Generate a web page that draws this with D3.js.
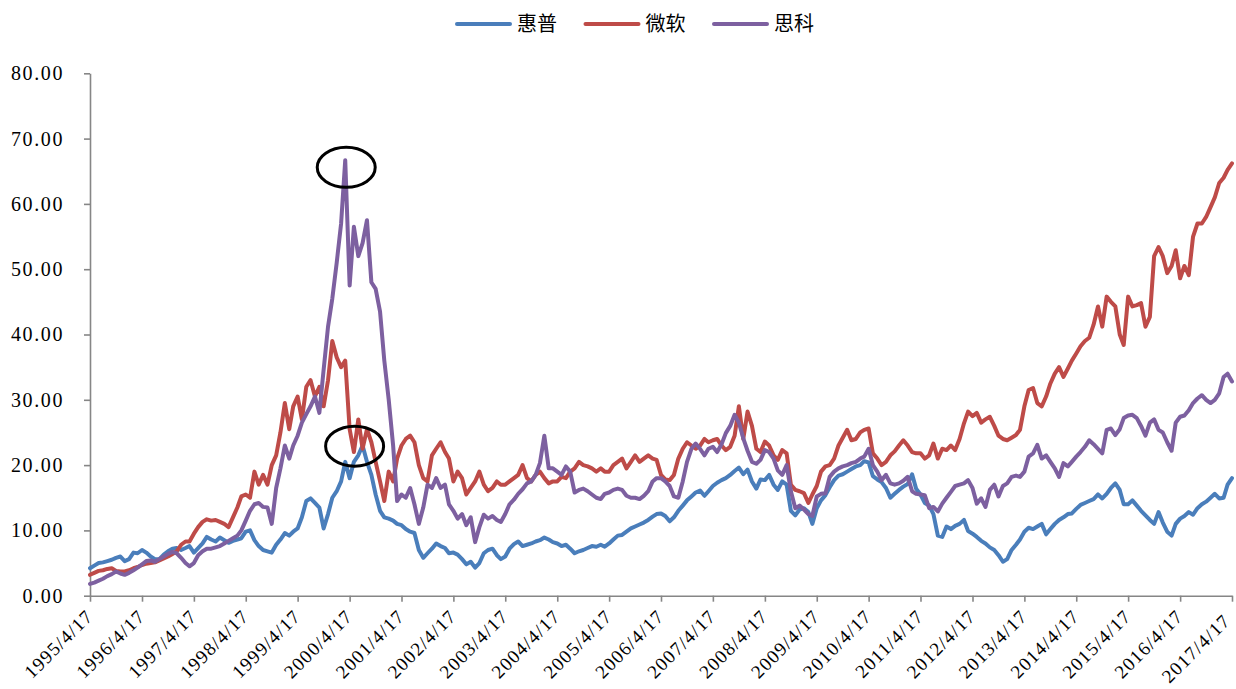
<!DOCTYPE html>
<html>
<head>
<meta charset="utf-8">
<script src="https://cdn.jsdelivr.net/npm/d3@7"></script>
<style>
  html, body { margin: 0; padding: 0; background: #fff; }
  svg { display: block; }
</style>
</head>
<body>
<div id="chart"></div>
<script>
// ---- data (monthly closes, starting 1995/4/17) ----
const startDate = "1995-04-17";
const endDate = "2017-04-17";
const seriesNames = ["惠普", "微软", "思科"];
const seriesColors = ["#4A7EBB", "#BE4B48", "#7D60A0"];

const hpValues = [
  4.2, 4.6, 5.0, 5.1, 5.3, 5.5, 5.8, 6.0, 5.3, 5.6, 6.6, 6.5,
  7.0, 6.6, 6.0, 5.6, 5.6, 6.3, 6.8, 7.2, 7.3, 7.0, 7.3, 7.6,
  6.6, 7.3, 8.0, 9.0, 8.6, 8.3, 8.9, 8.5, 8.1, 8.4, 8.6, 8.8,
  9.8, 10.0, 8.5, 7.6, 7.0, 6.8, 6.6, 7.8, 8.6, 9.6, 9.2, 9.8,
  10.3, 12.0, 14.5, 14.9, 14.2, 13.5, 10.3, 12.5, 15.0, 16.0, 17.5, 20.5,
  18.0, 20.5, 21.5, 23.0, 20.5, 18.5, 15.5, 13.0, 12.0, 11.8, 11.5, 11.0,
  10.8, 10.2, 9.8, 9.6, 7.0, 5.8, 6.5, 7.2, 8.0, 7.6, 7.3, 6.5,
  6.6, 6.3, 5.6, 4.8, 5.2, 4.3, 5.0, 6.5, 7.0, 7.2, 6.2, 5.6,
  6.0, 7.2, 7.9, 8.3, 7.6, 7.8, 8.0, 8.3, 8.5, 8.9, 8.6, 8.2,
  8.0, 7.6, 7.8, 7.2, 6.5, 6.8, 7.0, 7.3, 7.6, 7.5, 7.8, 7.5,
  8.0, 8.6, 9.2, 9.3, 9.8, 10.3, 10.6, 10.9, 11.2, 11.6, 12.1, 12.5,
  12.6, 12.2, 11.4, 12.0, 13.0, 13.8, 14.6, 15.2, 15.8, 16.1, 15.3, 16.0,
  16.8, 17.3, 17.7, 18.0, 18.5, 19.1, 19.6, 18.6, 19.3, 17.5, 16.4, 17.8,
  17.7, 18.5, 17.0, 16.2, 17.5, 17.0, 13.0, 12.3, 13.2, 13.4, 12.8, 11.0,
  13.4, 14.6, 15.4, 16.6, 17.7, 18.4, 18.6, 19.0, 19.4, 19.8, 20.0, 20.6,
  20.4, 18.3, 17.8, 17.4, 16.5, 15.0, 15.6, 16.2, 16.7, 17.1, 18.6, 16.4,
  15.5, 14.2, 13.8, 12.5, 9.2, 9.0, 10.6, 10.2, 10.7, 11.0, 11.6, 9.9,
  9.5, 9.0, 8.4, 8.0, 7.4, 7.0, 6.2, 5.2, 5.6, 7.0, 7.8, 8.6,
  9.8, 10.4, 10.2, 10.6, 11.0, 9.4, 10.2, 11.0, 11.6, 12.0, 12.5, 12.6,
  13.3, 13.9, 14.2, 14.5, 14.8, 15.5, 14.9, 15.6, 16.5, 17.2, 16.2, 14.0,
  14.0, 14.6, 13.8, 13.0, 12.3, 11.6, 11.0, 12.8, 11.2, 9.8, 9.2, 11.0,
  11.8, 12.2, 12.8, 12.4, 13.4, 14.0, 14.4, 15.0, 15.6, 14.9, 15.0, 17.0, 18.0
];

const msftValues = [
  3.2, 3.5, 3.8, 3.9, 4.1, 4.2, 3.8, 3.7, 3.7, 3.9, 4.2, 4.4,
  4.7, 4.9, 5.0, 5.1, 5.4, 5.7, 6.0, 6.4, 6.8, 7.8, 8.3, 8.3,
  9.5, 10.5, 11.3, 11.7, 11.5, 11.6, 11.3, 11.0, 10.5, 12.0, 13.5, 15.2,
  15.5, 15.0, 19.0, 17.0, 18.5, 17.0, 20.0, 21.5, 25.0, 29.5, 25.5, 29.0,
  30.5, 27.0, 32.0, 33.0, 30.5, 32.0, 29.0, 33.0, 39.0, 36.5, 35.0, 36.0,
  25.5, 22.0, 27.0, 22.5, 25.5, 23.5, 20.5, 17.5, 14.5, 19.0, 17.5, 21.0,
  23.0, 24.0, 24.5, 23.5, 20.0, 18.0, 17.5, 21.5, 22.5, 23.5, 22.0, 21.0,
  17.5, 19.0, 18.0, 15.5, 16.5, 17.5, 19.0, 17.0, 16.0, 16.5, 17.5, 17.0,
  17.0, 17.5, 18.0, 18.5, 20.0, 18.0, 17.5, 18.5, 19.0, 18.0, 17.2, 17.5,
  17.5, 18.2, 18.0, 19.0, 19.5, 20.5, 20.0, 19.8, 19.5, 19.0, 19.5, 19.0,
  19.0, 20.0, 20.5, 21.0, 19.5, 20.5, 21.5, 20.5, 21.0, 21.5, 21.0, 20.8,
  18.5, 17.8, 17.7, 18.5, 21.0, 22.5, 23.5, 23.0, 22.5, 23.0, 24.0, 23.5,
  23.8, 24.0, 23.0, 22.3, 22.8, 24.5, 29.0, 24.0, 28.2, 26.0, 22.5, 22.0,
  23.6, 23.0, 21.5, 20.8, 22.3, 21.8, 17.0, 16.2, 16.0, 15.7, 14.2, 15.5,
  16.8, 19.0, 19.8, 20.0, 21.0, 23.0, 24.2, 25.4, 23.8, 24.0, 25.0, 25.4,
  25.6, 21.8, 21.0, 20.0, 20.5, 21.5, 22.1, 23.0, 23.8, 23.0, 22.0, 21.8,
  21.8, 21.0, 21.5, 23.3, 21.0, 22.5, 22.3, 23.0, 22.3, 24.0, 26.4, 28.2,
  27.5, 28.0, 26.5, 27.0, 27.4, 26.0, 24.5, 24.0, 23.8, 24.2, 24.6, 25.4,
  29.0, 31.5, 31.8, 29.5, 29.0, 30.5, 32.5, 34.0, 35.0, 33.5, 34.8, 36.0,
  37.1, 38.2, 39.0, 39.5, 41.5, 44.3, 41.2, 45.8, 45.0, 44.3, 40.0, 38.4,
  45.8, 44.3, 44.5, 44.8, 41.2, 42.7, 52.0, 53.4, 52.0, 49.4, 50.5, 52.9,
  48.6, 50.5, 49.1, 55.0, 57.0, 57.0, 58.0, 59.5, 61.0, 63.2, 64.0, 65.2, 66.2
];

const ciscoValues = [
  1.8, 2.0, 2.3, 2.6, 3.0, 3.3, 3.7, 3.4, 3.2, 3.5, 3.9, 4.3,
  4.8, 5.3, 5.4, 5.2, 5.6, 6.0, 6.4, 6.7, 6.5, 5.8, 5.0, 4.5,
  5.0, 6.2, 6.8, 7.2, 7.2, 7.4, 7.6, 8.0, 8.4, 8.8, 9.2, 10.0,
  11.5, 13.0, 14.0, 14.2, 13.6, 13.5, 11.0, 16.5, 19.5, 23.0, 21.0, 23.0,
  24.5, 26.5, 27.8, 29.0, 30.5, 28.0, 34.6, 41.2, 45.5, 51.0, 57.0, 66.7,
  47.5, 56.5, 52.0, 54.0, 57.5, 48.0, 47.0, 43.5, 36.0, 30.0, 23.0, 14.5,
  15.5, 15.0, 16.5, 14.0, 11.0, 13.5, 17.0, 16.5, 18.0, 16.5, 17.0, 14.0,
  13.0, 11.8, 12.5, 10.8, 12.0, 8.2, 10.5, 12.4, 11.8, 12.2, 11.6, 11.3,
  12.5, 14.0, 14.7, 15.6, 16.3, 17.2, 17.5, 18.5, 20.3, 24.5, 19.5, 19.5,
  19.0, 18.5, 19.8, 19.0, 15.8, 16.2, 16.4, 16.0, 15.5, 15.0, 14.8, 15.6,
  15.8, 16.2, 16.4, 16.2, 15.3, 15.0, 15.0, 14.8, 15.3, 16.0, 17.5, 18.0,
  18.0, 17.5, 16.8, 15.2, 15.0, 17.5, 20.5, 22.5, 23.3, 22.5, 21.5, 22.5,
  22.8, 22.0, 23.2, 24.9, 26.0, 27.7, 26.5, 24.1, 22.2, 20.5, 20.2, 20.8,
  22.3, 22.0, 21.0, 19.2, 18.5, 20.0, 16.0, 13.4, 13.8, 13.2, 12.5, 12.2,
  15.2, 15.6, 15.7, 18.2, 19.0, 19.5, 19.8, 20.0, 20.3, 20.5, 21.0, 21.3,
  22.5, 20.0, 19.0, 17.7, 18.5, 17.2, 17.0, 17.2, 17.6, 18.2, 16.0, 15.6,
  15.5, 15.4, 13.4, 13.6, 12.9, 14.1, 15.0, 15.9, 16.8, 17.0, 17.2, 17.7,
  16.5, 14.1, 14.9, 13.6, 16.2, 17.0, 15.2, 16.8, 17.2, 18.2, 18.4, 18.2,
  19.0, 21.3, 21.8, 23.1, 21.0, 21.5, 20.5, 19.5, 18.2, 20.3, 19.8, 20.5,
  21.3, 22.0, 22.8, 23.8, 23.2, 22.5, 21.8, 25.4, 25.6, 24.6, 25.5, 27.2,
  27.6, 27.7, 27.2, 26.0, 24.5, 26.5, 27.0, 25.4, 25.0, 23.5, 22.2, 26.5,
  27.4, 27.6, 28.4, 29.5, 30.2, 30.7, 30.0, 29.5, 30.0, 31.0, 33.5, 34.0, 32.8
];

const yTicks = [0, 10, 20, 30, 40, 50, 60, 70, 80];
const xTickYears = [1995,1996,1997,1998,1999,2000,2001,2002,2003,2004,2005,2006,
                    2007,2008,2009,2010,2011,2012,2013,2014,2015,2016,2017];
// annotation circles: [date, value]
const markDates = ["2000-03-24", "2000-05-22"];
const markValues = [65.6, 22.9];

// ---- drawing ----
const W = 1236, H = 689;
const svg = d3.select("#chart").append("svg")
  .attr("width", W).attr("height", H)
  .style("background", "#fff");

const parse = d3.timeParse("%Y-%m-%d");
const t0 = parse(startDate), t1 = parse(endDate);

const x = d3.scaleTime().domain([t0, t1]).range([90, 1232]);
const y = d3.scaleLinear().domain([0, 80]).range([595.7, 73.3]);

const allSeries = [hpValues, msftValues, ciscoValues].map((vals, k) => ({
  name: seriesNames[k],
  color: seriesColors[k],
  points: vals.map((v, i) => ({ date: d3.timeMonth.offset(t0, i), value: v }))
}));

const axisColor = "#868686";
const numFont = "'Liberation Serif', 'Times New Roman', serif";

// Y axis
const yAxis = svg.append("g")
  .attr("transform", "translate(90,0)")
  .call(d3.axisLeft(y).tickValues(yTicks).tickFormat(d3.format(".2f"))
        .tickSize(6).tickSizeOuter(0).tickPadding(20));
yAxis.select(".domain").attr("stroke", axisColor).attr("stroke-width", 1.6);
yAxis.selectAll(".tick line").attr("stroke", axisColor).attr("stroke-width", 1.6);
yAxis.selectAll(".tick text")
  .attr("font-family", numFont).attr("font-size", 20)
  .attr("letter-spacing", 1.6).attr("fill", "#000");

// X axis
const xTickDates = xTickYears.map(yr => parse(yr + "-04-17"));
const xAxis = svg.append("g")
  .attr("transform", `translate(0,${y(0)})`)
  .call(d3.axisBottom(x).tickValues(xTickDates).tickFormat(d3.timeFormat("%Y/%-m/%-d"))
        .tickSize(6).tickSizeOuter(0));
xAxis.select(".domain").attr("stroke", axisColor).attr("stroke-width", 1.6);
xAxis.selectAll(".tick line").attr("stroke", axisColor).attr("stroke-width", 1.6);
const baseDx = -1, baseDy = 17;
xAxis.selectAll(".tick text")
  .attr("font-family", numFont).attr("font-size", 19)
  .attr("letter-spacing", 1.2).attr("fill", "#000")
  .attr("text-anchor", "end")
  .attr("x", 0).attr("y", 0).attr("dy", "0.35em")
  .attr("transform", `translate(${baseDx},${baseDy}) rotate(-45)`)
  .each(function () {
    // keep a rotated label inside the picture: slide it along its own diagonal
    const b = this.getBoundingClientRect();
    const over = b.right - (W - 1.5);
    if (over > 0) {
      d3.select(this).attr("transform",
        `translate(${baseDx - over},${baseDy + over}) rotate(-45)`);
    }
  });

// lines
const line = d3.line().x(d => x(d.date)).y(d => y(d.value));
svg.append("g").selectAll("path")
  .data(allSeries).join("path")
  .attr("d", d => line(d.points))
  .attr("fill", "none")
  .attr("stroke", d => d.color)
  .attr("stroke-width", 4)
  .attr("stroke-linejoin", "round")
  .attr("stroke-linecap", "round");

// annotation ellipses
svg.append("g").selectAll("ellipse")
  .data(markDates.map((d, i) => ({ date: parse(d), value: markValues[i] })))
  .join("ellipse")
  .attr("cx", d => x(d.date)).attr("cy", d => y(d.value))
  .attr("rx", 29).attr("ry", 20)
  .attr("fill", "none").attr("stroke", "#000").attr("stroke-width", 3);

// legend
const legend = svg.append("g").attr("transform", "translate(457,24)");
const items = legend.selectAll("g").data(allSeries).join("g")
  .attr("transform", (d, i) => `translate(${i * 128.5},0)`);
items.append("line")
  .attr("x1", 0).attr("x2", 53).attr("y1", 0).attr("y2", 0)
  .attr("stroke", d => d.color).attr("stroke-width", 4).attr("stroke-linecap", "round");
items.append("text")
  .attr("x", 60).attr("y", 0).attr("dy", "0.36em")
  .attr("font-family", "'Noto Sans CJK SC', sans-serif")
  .attr("font-size", 20).attr("fill", "#000")
  .text(d => d.name);
</script>
</body>
</html>
